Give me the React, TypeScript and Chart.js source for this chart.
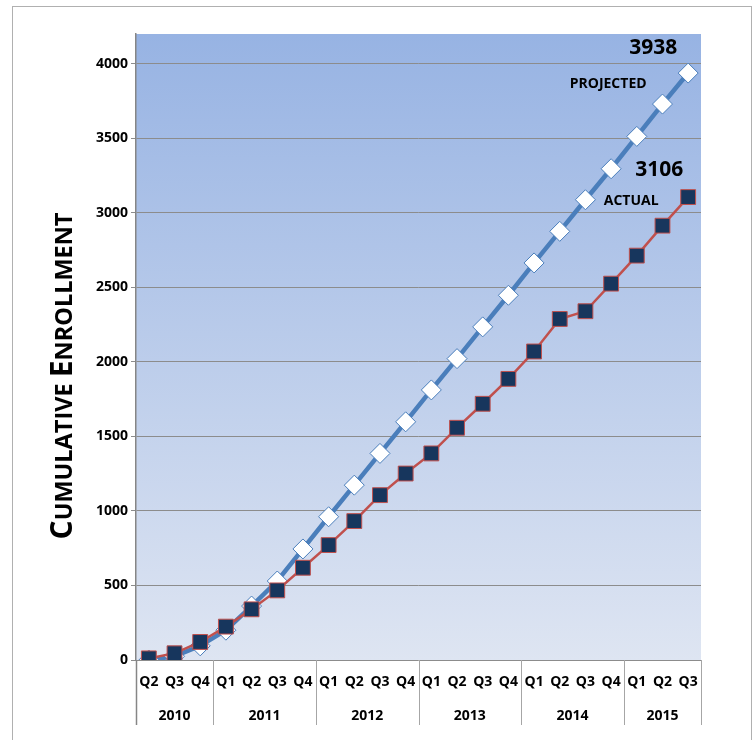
import React, { useEffect, useRef } from "react";
import { Chart, registerables } from "chart.js";

Chart.register(...registerables);

const quarters = ["Q2", "Q3", "Q4", "Q1", "Q2", "Q3", "Q4", "Q1", "Q2", "Q3", "Q4", "Q1", "Q2", "Q3", "Q4", "Q1", "Q2", "Q3", "Q4", "Q1", "Q2", "Q3"];
const years = ["2010", "2011", "2012", "2013", "2014", "2015"];
const quartersPerYear = [3, 4, 4, 4, 4, 3];
const projected = [0, 25, 95, 200, 362, 530, 745, 961, 1173, 1386, 1598, 1812, 2022, 2235, 2447, 2664, 2876, 3088, 3296, 3513, 3730, 3938];
const actual = [11, 45, 121, 224, 340, 467, 619, 771, 932, 1106, 1251, 1386, 1558, 1719, 1886, 2070, 2288, 2340, 2525, 2713, 2914, 3106];
const yTicks = [0, 500, 1000, 1500, 2000, 2500, 3000, 3500, 4000];
const yMax = 4200;
const yTitleParts = [
  ["C", true], ["UMULATIVE ", false], ["E", true], ["NROLLMENT", false],
] as [string, boolean][];

const FONT = "'Open Sans', sans-serif";
const GRID = "#8c8c8c";

const decorPlugin = {
  id: "decor",
  beforeDraw(chart: any) {
    const { ctx, chartArea } = chart;
    const { left, top, right, bottom } = chartArea;
    ctx.save();
    const g = ctx.createLinearGradient(0, top, 0, bottom);
    g.addColorStop(0, "#97b3e3");
    g.addColorStop(1, "#dee5f2");
    ctx.fillStyle = g;
    ctx.fillRect(left, top, right - left, bottom - top);
    ctx.restore();
  },
  afterDraw(chart: any) {
    const { ctx, chartArea, scales } = chart;
    const x = scales.x;
    const y = scales.y;
    const { left, right, bottom } = chartArea;
    const cat = (right - left) / quarters.length;
    ctx.save();
    let idx = 0;
    const bounds: number[] = [left];
    quartersPerYear.forEach((n) => {
      idx += n;
      bounds.push(left + idx * cat);
    });
    bounds.forEach((bx, i) => {
      ctx.beginPath();
      ctx.strokeStyle = i === 0 ? "#868686" : "#a6a6a6";
      ctx.lineWidth = i === 0 ? 1.5 : 1;
      ctx.moveTo(Math.round(bx) + 0.5, bottom);
      ctx.lineTo(Math.round(bx) + 0.5, bottom + 65);
      ctx.stroke();
    });
    ctx.fillStyle = "#000";
    ctx.font = `bold 14px ${FONT}`;
    ctx.textAlign = "center";
    ctx.textBaseline = "middle";
    years.forEach((yr, i) => {
      ctx.fillText(yr, (bounds[i] + bounds[i + 1]) / 2, bottom + 56);
    });
    const last = quarters.length - 1;
    const px = x.getPixelForValue(last);
    const pyP = y.getPixelForValue(projected[last]);
    const pyA = y.getPixelForValue(actual[last]);
    ctx.font = `bold 21px ${FONT}`;
    ctx.fillText(String(projected[last]), px - 35, pyP - 25);
    ctx.fillText(String(actual[last]), px - 29, pyA - 27);
    ctx.font = `bold 14px ${FONT}`;
    ctx.fillText("PROJECTED", px - 80, pyP + 11);
    ctx.fillText("ACTUAL", px - 57, pyA + 4);
    const big = `bold 30px ${FONT}`;
    const small = `bold 23.5px ${FONT}`;
    let total = 0;
    const widths = yTitleParts.map(([t, b]) => {
      ctx.font = b ? big : small;
      const w = ctx.measureText(t).width;
      total += w;
      return w;
    });
    ctx.translate(72, 376);
    ctx.rotate(-Math.PI / 2);
    ctx.textAlign = "left";
    ctx.textBaseline = "alphabetic";
    let cx = -total / 2;
    yTitleParts.forEach(([t, b], i) => {
      ctx.font = b ? big : small;
      ctx.fillText(t, cx, 0);
      cx += widths[i];
    });
    ctx.restore();
  },
};

export default function App() {
  const ref = useRef<HTMLCanvasElement | null>(null);
  useEffect(() => {
    if (!ref.current) return;
    const chart = new Chart(ref.current, {
      type: "line",
      data: {
        labels: quarters,
        datasets: [
          {
            label: "Actual",
            data: actual,
            order: 0,
            borderColor: "#c0504d",
            borderWidth: 2.5,
            backgroundColor: "#17365d",
            pointStyle: "rect",
            pointRadius: 10.5,
            pointBorderColor: "#c0504d",
            pointBorderWidth: 1,
            pointBackgroundColor: "#17365d",
            tension: 0,
          },
          {
            label: "Projected",
            data: projected,
            order: 1,
            borderColor: "#4a7ebb",
            borderWidth: 4.5,
            backgroundColor: "#ffffff",
            pointStyle: "rectRot",
            pointRadius: 10,
            pointBorderColor: "#4a7ebb",
            pointBorderWidth: 1,
            pointBackgroundColor: "#ffffff",
            tension: 0,
          },
        ],
      },
      options: {
        animation: false,
        responsive: false,
        layout: { padding: { left: 0, right: 54, top: 34, bottom: 0 } },
        plugins: { legend: { display: false }, tooltip: { enabled: false } },
        scales: {
          x: {
            type: "category",
            offset: true,
            grid: { display: false, drawTicks: false },
            border: { display: false },
            ticks: {
              autoSkip: false,
              maxRotation: 0,
              minRotation: 0,
              padding: 14,
              color: "#000",
              font: { family: FONT, weight: "bold", size: 14 },
            },
            afterFit: (s: any) => {
              s.height = 80;
            },
          },
          y: {
            min: 0,
            max: yMax,
            ticks: {
              padding: 3,
              color: "#000",
              font: { family: FONT, weight: "bold", size: 14 },
              callback: (v: any) => String(v),
            },
            afterBuildTicks: (s: any) => {
              s.ticks = yTicks.map((v) => ({ value: v }));
            },
            grid: { color: GRID, lineWidth: 1, tickLength: 5 },
            border: { display: true, color: "#868686", width: 1.5 },
            afterFit: (s: any) => {
              s.width = 136;
            },
          },
        },
      },
      plugins: [decorPlugin],
    });
    return () => chart.destroy();
  }, []);
  return (
    <div style={{ position: "fixed", left: 0, top: 0, width: 755, height: 740, overflow: "hidden", background: "#fff" }}>
      <div style={{ position: "absolute", left: 12, top: 6, width: 738, height: 760, border: "1px solid #b0b0b0" }} />
      <canvas ref={ref} width={755} height={740} style={{ position: "absolute", left: 0, top: 0, width: 755, height: 740 }} />
    </div>
  );
}
